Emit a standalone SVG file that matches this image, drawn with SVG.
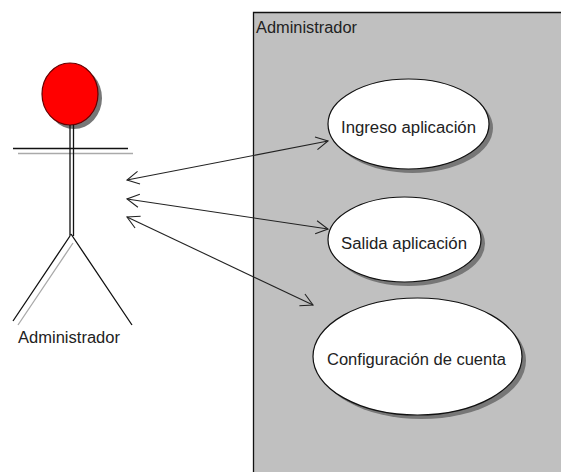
<svg xmlns="http://www.w3.org/2000/svg" width="561" height="472" viewBox="0 0 561 472">
<style>
text{font-family:"Liberation Sans",Arial,sans-serif;font-size:16px;fill:#222}
.u{fill:#fff;stroke:#111;stroke-width:1.2}
.s{fill:#777}
.k{stroke:#111;stroke-width:1.3;fill:none}
.g{stroke:#aaa;stroke-width:1.3;fill:none}
.c{stroke:#222;stroke-width:1.1;fill:none}
</style>
<defs>
<marker id="h" markerUnits="userSpaceOnUse" markerWidth="16" markerHeight="16" refX="14" refY="8" orient="auto-start-reverse" viewBox="0 0 16 16">
<path d="M2 1.500L14 8L2 14.500" fill="none" stroke="#222" stroke-width="1.1"/>
</marker>
</defs>
<rect width="561" height="472" fill="#fff"/>
<g id="boundary">
<path d="M561 12.500H253.500V472H561Z" fill="#c0c0c0"/>
<path d="M561 12.500H253.500V472" class="k"/>
<text x="256" y="33" textLength="101" lengthAdjust="spacingAndGlyphs">Administrador</text>
</g>
<g id="actor">
<ellipse class="s" cx="74" cy="98" rx="28" ry="31"/>
<ellipse cx="70" cy="94" rx="28" ry="31" fill="#f00" stroke="#600" stroke-width="1.2"/>
<path class="g" d="M18 153.500H133M73 243L18 325"/>
<path class="k" d="M13 148.500H128M70 125V236M73.500 125V236M70 236L13 321M71 234L132 325"/>
<text x="18" y="343" textLength="102" lengthAdjust="spacingAndGlyphs">Administrador</text>
</g>
<g id="uc1">
<ellipse class="s" cx="412.500" cy="128" rx="80.500" ry="45"/>
<ellipse class="u" cx="408.500" cy="124" rx="80.500" ry="45"/>
<text x="341" y="133" textLength="135" lengthAdjust="spacingAndGlyphs">Ingreso aplicación</text>
</g>
<g id="uc2">
<ellipse class="s" cx="408.500" cy="243.500" rx="76.500" ry="42.500"/>
<ellipse class="u" cx="404.500" cy="239.500" rx="76.500" ry="42.500"/>
<text x="341" y="249" textLength="126" lengthAdjust="spacingAndGlyphs">Salida aplicación</text>
</g>
<g id="uc3">
<ellipse class="s" cx="421.500" cy="360.500" rx="104.500" ry="58.500"/>
<ellipse class="u" cx="417.500" cy="356.500" rx="104.500" ry="58.500"/>
<text x="327" y="365" textLength="179" lengthAdjust="spacingAndGlyphs">Configuración de cuenta</text>
</g>
<g id="connectors">
<path class="c" d="M127 180L328 141" marker-start="url(#h)" marker-end="url(#h)"/>
<path class="c" d="M127 199L328 229" marker-start="url(#h)" marker-end="url(#h)"/>
<path class="c" d="M127 217L313 305" marker-start="url(#h)" marker-end="url(#h)"/>
</g>
</svg>
